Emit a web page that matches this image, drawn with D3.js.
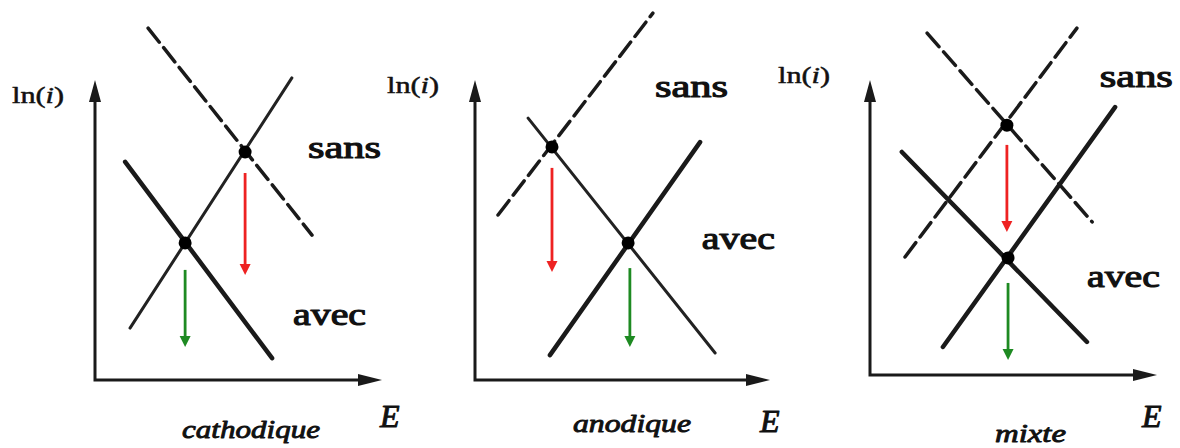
<!DOCTYPE html>
<html>
<head>
<meta charset="utf-8">
<script src="https://cdn.jsdelivr.net/npm/d3@7"></script>
<style>
  html, body { margin: 0; padding: 0; background: #fff; }
  svg { display: block; }
  svg text { font-family: "Liberation Serif", "Times New Roman", serif; font-weight: normal; fill: #111; stroke: #111; paint-order: stroke; stroke-linejoin: round; }
</style>
</head>
<body>
<svg id="chart" width="1180" height="448"></svg>
<script>
// three Evans diagrams: cathodic, anodic and mixed inhibitor
const panelNames = ["cathodique", "anodique", "mixte"];

// polarisation lines without inhibitor (dashed), in axis units (E, ln i)
const dashedLines = [
  { panel: 0, E: [1.85, 7.56], lnI: [11.73, 4.83] },
  { panel: 1, E: [0.78, 6.03], lnI: [5.5, 12.23] },
  { panel: 2, E: [1.99, 7.74], lnI: [11.59, 5.19] },
  { panel: 2, E: [1.22, 7.21], lnI: [4.0, 11.76] }
];

// unchanged branch (thin solid)
const thinLines = [
  { panel: 0, E: [1.22, 6.86], lnI: [1.73, 10.07] },
  { panel: 1, E: [1.8, 8.14], lnI: [8.73, 0.9] }
];

// branches with inhibitor (thick solid)
const thickLines = [
  { panel: 0, E: [1.05, 6.17], lnI: [7.27, 0.73] },
  { panel: 1, E: [2.54, 7.63], lnI: [0.83, 7.93] },
  { panel: 2, E: [1.11, 7.56], lnI: [7.56, 1.12] },
  { panel: 2, E: [2.54, 8.54], lnI: [0.95, 9.08] }
];

// corrosion points
const corrPoints = [
  { panel: 0, state: "sans", E: 5.23, lnI: 7.6 },
  { panel: 0, state: "avec", E: 3.14, lnI: 4.57 },
  { panel: 1, state: "sans", E: 2.61, lnI: 7.77 },
  { panel: 1, state: "avec", E: 5.19, lnI: 4.57 },
  { panel: 2, state: "sans", E: 4.77, lnI: 8.47 },
  { panel: 2, state: "avec", E: 4.81, lnI: 3.97 }
];

// drop of ln(i) arrows
const dropArrows = [
  { panel: 0, state: "sans", E: 5.23, lnI: [6.9, 3.5] },
  { panel: 0, state: "avec", E: 3.14, lnI: [3.67, 1.1] },
  { panel: 1, state: "sans", E: 2.61, lnI: [7.07, 3.6] },
  { panel: 1, state: "avec", E: 5.25, lnI: [3.73, 1.1] },
  { panel: 2, state: "sans", E: 4.77, lnI: [7.8, 4.85] },
  { panel: 2, state: "avec", E: 4.81, lnI: [3.12, 0.51] }
];

// where the "sans"/"avec" words sit, in axis units
const stateLabels = [
  { panel: 0, text: "sans", E: 7.42, lnI: 7.4 },
  { panel: 0, text: "avec", E: 6.9, lnI: 1.83 },
  { panel: 1, text: "sans", E: 6.1, lnI: 9.43 },
  { panel: 1, text: "avec", E: 7.69, lnI: 4.37 },
  { panel: 2, text: "sans", E: 8.01, lnI: 9.76 },
  { panel: 2, text: "avec", E: 7.56, lnI: 2.98 }
];

// panel frames (pixels) and text spots
const frames = [
  { x0: 95, x1: 382, y0: 380, y1: 80, yl: [12, 103], el: [380, 427], sub: [182, 438, 138] },
  { x0: 475, x1: 770, y0: 380, y1: 80, yl: [387, 93], el: [760, 432], sub: [573, 432, 118] },
  { x0: 870, x1: 1157, y0: 375, y1: 80, yl: [778, 83], el: [1142, 427], sub: [995, 442, 71] }
];

const arrowColor = { sans: "#ee2222", avec: "#1e8a22" };
const ink = "#1a1a1a";

const svg = d3.select("#chart");

frames.forEach((f, i) => {
  const x = d3.scaleLinear().domain([0, 10]).range([f.x0, f.x1]);
  const y = d3.scaleLinear().domain([0, 10]).range([f.y0, f.y1]);
  const g = svg.append("g").attr("class", `panel-${panelNames[i]}`);

  const seg = d => [[d.E[0], d.lnI[0]], [d.E[1], d.lnI[1]]];
  const line = d3.line().x(d => x(d[0])).y(d => y(d[1]));

  // axes with filled arrow heads
  g.append("path")
    .attr("d", `M${x(0)},${y(0)}V${y(10) + 18}M${x(0) - 1.5},${y(0)}H${x(10) - 18}`)
    .attr("stroke", ink).attr("stroke-width", 3).attr("fill", "none");
  g.append("path")
    .attr("d", `M${x(0)},${y(10)}L${x(0) - 6},${y(10) + 22}L${x(0) + 6},${y(10) + 22}Z`)
    .attr("fill", ink);
  g.append("path")
    .attr("d", `M${x(10)},${y(0)}L${x(10) - 24},${y(0) - 6}L${x(10) - 24},${y(0) + 6}Z`)
    .attr("fill", ink);

  g.selectAll(".dashed")
    .data(dashedLines.filter(d => d.panel === i))
    .join("path")
    .attr("class", "dashed")
    .attr("d", d => line(seg(d)))
    .attr("stroke", ink).attr("stroke-width", 3.5)
    .attr("stroke-dasharray", "18 7")
    .attr("stroke-linecap", "round");

  g.selectAll(".thin")
    .data(thinLines.filter(d => d.panel === i))
    .join("path")
    .attr("class", "thin")
    .attr("d", d => line(seg(d)))
    .attr("stroke", "#222").attr("stroke-width", 3)
    .attr("stroke-linecap", "round");

  g.selectAll(".thick")
    .data(thickLines.filter(d => d.panel === i))
    .join("path")
    .attr("class", "thick")
    .attr("d", d => line(seg(d)))
    .attr("stroke", ink).attr("stroke-width", 4.5)
    .attr("stroke-linecap", "round");

  g.selectAll(".pt")
    .data(corrPoints.filter(d => d.panel === i))
    .join("circle")
    .attr("class", "pt")
    .attr("cx", d => x(d.E))
    .attr("cy", d => y(d.lnI))
    .attr("r", 6.5)
    .attr("fill", "#000");

  // red/green drop arrows
  const arr = dropArrows.filter(d => d.panel === i);
  g.selectAll(".drop")
    .data(arr)
    .join("path")
    .attr("class", "drop")
    .attr("d", d => `M${x(d.E)},${y(d.lnI[0])}V${y(d.lnI[1]) - 9}`)
    .attr("stroke", d => arrowColor[d.state])
    .attr("stroke-width", 2.8);
  g.selectAll(".drop-head")
    .data(arr)
    .join("path")
    .attr("class", "drop-head")
    .attr("d", d => {
      const cx = x(d.E), ty = y(d.lnI[1]);
      return `M${cx},${ty}L${cx - 5.5},${ty - 11}L${cx + 5.5},${ty - 11}Z`;
    })
    .attr("fill", d => arrowColor[d.state]);

  // faux bold via stroke so the serif face is kept
  g.selectAll(".state")
    .data(stateLabels.filter(d => d.panel === i))
    .join("text")
    .attr("class", "state")
    .attr("x", d => x(d.E))
    .attr("y", d => y(d.lnI))
    .style("font-size", "31px")
    .style("stroke-width", "1.1px")
    .attr("textLength", 73)
    .attr("lengthAdjust", "spacingAndGlyphs")
    .text(d => d.text);

  // ln(i) title
  const yt = g.append("text")
    .attr("x", f.yl[0]).attr("y", f.yl[1])
    .style("font-size", "24px")
    .style("stroke-width", "0.5px")
    .attr("textLength", 52)
    .attr("lengthAdjust", "spacingAndGlyphs");
  yt.append("tspan").text("ln(");
  yt.append("tspan").style("font-style", "italic").text("i");
  yt.append("tspan").text(")");

  g.append("text")
    .attr("x", f.el[0]).attr("y", f.el[1])
    .style("font-style", "italic")
    .style("font-size", "32px")
    .style("stroke-width", "1px")
    .text("E");

  g.append("text")
    .attr("x", f.sub[0]).attr("y", f.sub[1])
    .style("font-style", "italic")
    .style("font-size", "26px")
    .style("stroke-width", "0.9px")
    .attr("textLength", f.sub[2])
    .attr("lengthAdjust", "spacingAndGlyphs")
    .text(panelNames[i]);
});
</script>
</body>
</html>
